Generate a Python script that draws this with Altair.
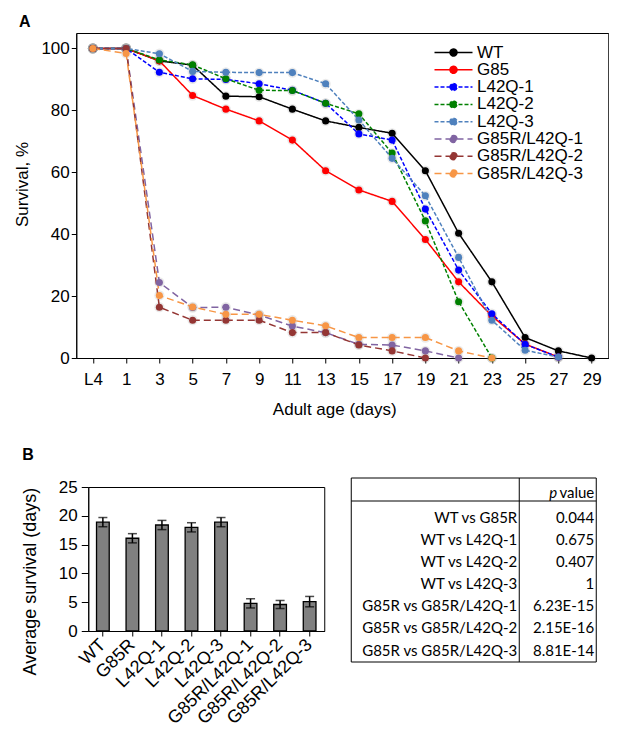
import altair as alt
import pandas as pd

FONT = "Liberation Sans"
TFONT = "Lato"

# ---------------- Panel A data ----------------
days = ["L4", "1", "3", "5", "7", "9", "11", "13", "15", "17", "19", "21", "23", "25", "27", "29"]
series_names = ["WT", "G85", "L42Q-1", "L42Q-2", "L42Q-3",
                "G85R/L42Q-1", "G85R/L42Q-2", "G85R/L42Q-3"]
line_colors = ["#000000", "#ff0000", "#0000ff", "#008000", "#4f81bd",
               "#8064a2", "#943634", "#f79646"]
dash_patterns = [[1, 0], [1, 0], [4, 2], [4, 2], [4, 2], [7, 4], [7, 4], [7, 4]]

wt = [100, 100, 96, 94.6, 84.6, 84.4, 80.4, 76.6, 74.5, 72.6, 60.5, 40.3, 24.6, 6.6, 2.3, 0]
g85 = [100, 100, 96, 84.8, 80.4, 76.6, 70.4, 60.5, 54.3, 50.6, 38.3, 24.6, 13.6, 4.5, 0.3, None]
l42q_1 = [100, 100, 92.3, 90.2, 90.0, 88.6, 86.5, 82.3, 72.4, 70.4, 48.1, 28.4, 14.3, 4.4, 0.3, None]
l42q_2 = [100, 100, 96.3, 94.7, 90.2, 86.5, 86.4, 82.3, 78.9, 66.2, 44.3, 18.2, 0, None, None, None]
l42q_3 = [100, 100, 98.3, 92.6, 92.3, 92.2, 92.2, 88.6, 76.9, 64.5, 52.4, 32.5, 12.2, 2.5, 0.3, None]
g85r_1 = [100, 100, 24.4, 16.3, 16.4, 13.9, 10.3, 8.2, 4.4, 4.2, 2.3, 0, None, None, None, None]
g85r_2 = [100, 100, 16.4, 12.2, 12.2, 12.2, 8.2, 8.2, 4.2, 2.3, 0, None, None, None, None, None]
g85r_3 = [100, 98.4, 20.2, 16.5, 14.1, 14.1, 12.2, 10.4, 6.6, 6.6, 6.6, 2.3, 0, None, None, None]
all_values = [wt, g85, l42q_1, l42q_2, l42q_3, g85r_1, g85r_2, g85r_3]

rows = []
for s, vals in zip(series_names, all_values):
    for i, (d, v) in enumerate(zip(days, vals)):
        if v is not None:
            rows.append({"day": d, "idx": i, "series": s, "value": v})
df = pd.DataFrame(rows)

# ---------------- Panel B data ----------------
strains = ["WT", "G85R", "L42Q-1", "L42Q-2", "L42Q-3",
           "G85R/L42Q-1", "G85R/L42Q-2", "G85R/L42Q-3"]
mean_survival = [18.9, 16.1, 18.4, 18.0, 18.9, 4.8, 4.6, 5.1]
sem_survival = [0.8, 0.8, 0.8, 0.8, 0.8, 0.8, 0.7, 0.9]

comparisons = ["WT vs G85R", "WT vs L42Q-1", "WT vs L42Q-2", "WT vs L42Q-3",
               "G85R vs G85R/L42Q-1", "G85R vs G85R/L42Q-2", "G85R vs G85R/L42Q-3"]
p_values = ["0.044", "0.675", "0.407", "1", "6.23E-15", "2.15E-16", "8.81E-14"]

# ================= Panel A =================
x_enc = alt.X("day:O", sort=days,
              scale=alt.Scale(type="point", padding=0.5),
              axis=alt.Axis(title="Adult age (days)", labelAngle=0, labelFontSize=17,
                            titleFontSize=17, tickSize=5, labelPadding=8,
                            titlePadding=14, titleX=258))
y_enc = alt.Y("value:Q", scale=alt.Scale(domain=[0, 105], nice=False),
              axis=alt.Axis(title="Survival, %", values=[0, 20, 40, 60, 80, 100],
                            labelFontSize=17, titleFontSize=17, tickSize=5,
                            labelPadding=2, titlePadding=9, titleY=151))

color_scale = alt.Scale(domain=series_names, range=line_colors)
dash_scale = alt.Scale(domain=series_names, range=dash_patterns)

leg = alt.Legend(orient="none", legendX=369, legendY=11, title=None,
                 symbolType="M-3.8,0L3.8,0M-0.7,0A0.7,0.7,0,1,0,0.7,0A0.7,0.7,0,1,0,-0.7,0Z",
                 symbolSize=100, symbolStrokeWidth=1.5, symbolOpacity=1,
                 labelFontSize=17, labelFont=FONT, labelColor="black",
                 labelOffset=15, rowPadding=-0.7, padding=0)

halo = alt.Chart(df).mark_circle(size=105, color="#8a8a8a", opacity=0.18).encode(
    x=x_enc, y=y_enc)

lines = alt.Chart(df).mark_line(strokeWidth=1.5).encode(
    x=x_enc, y=y_enc,
    color=alt.Color("series:N", scale=color_scale, legend=leg),
    strokeDash=alt.StrokeDash("series:N", scale=dash_scale, legend=leg),
    order=alt.Order("idx:Q"),
)

points = alt.Chart(df).mark_point(filled=True, size=50, opacity=1, strokeWidth=0).encode(
    x=x_enc, y=y_enc,
    color=alt.Color("series:N", scale=color_scale, legend=leg),
    stroke=alt.Stroke("series:N", scale=color_scale, legend=leg),
    strokeDash=alt.StrokeDash("series:N", scale=dash_scale, legend=leg),
)

panel_a = alt.layer(halo, lines, points).properties(
    width=532, height=325,
    title=alt.TitleParams("A", anchor="start", frame="bounds", dx=5, offset=3,
                          fontSize=16, fontWeight="bold", font=FONT, color="black"),
)

# ================= Panel B (bars) =================
bar_df = pd.DataFrame({"strain": strains, "mean": mean_survival, "sem": sem_survival})
bar_df["lo"] = bar_df["mean"] - bar_df["sem"]
bar_df["hi"] = bar_df["mean"] + bar_df["sem"]

bx = alt.X("strain:N", sort=strains,
           scale=alt.Scale(paddingInner=0.57, paddingOuter=0.28),
           axis=alt.Axis(title=None, labelAngle=-45, labelAlign="right",
                         labelBaseline="middle", labelFontSize=18, tickSize=5,
                         labelPadding=6))
by_scale = alt.Scale(domain=[0, 25], nice=False)
by_axis = alt.Axis(title="Average survival (days)", values=[0, 5, 10, 15, 20, 25],
                   labelOverlap=False, labelFontSize=17, titleFontSize=18, tickSize=7,
                   labelPadding=4, titlePadding=19, titleY=94)

bars = alt.Chart(bar_df).mark_bar(color="#808080", stroke="black", strokeWidth=1.3).encode(
    x=bx, y=alt.Y("mean:Q", scale=by_scale, axis=by_axis))
err_rule = alt.Chart(bar_df).mark_rule(color="black", strokeWidth=1.5).encode(
    x=bx, y=alt.Y("lo:Q", scale=by_scale, axis=by_axis), y2="hi:Q")
cap_hi = alt.Chart(bar_df).mark_tick(color="black", size=9, thickness=1.5).encode(
    x=bx, y=alt.Y("hi:Q", scale=by_scale, axis=by_axis))
cap_lo = alt.Chart(bar_df).mark_tick(color="black", size=9, thickness=1.5).encode(
    x=bx, y=alt.Y("lo:Q", scale=by_scale, axis=by_axis))

panel_b = alt.layer(bars, err_rule, cap_hi, cap_lo).properties(
    width=236, height=144,
    title=alt.TitleParams("B", anchor="start", frame="bounds", dx=1, offset=15,
                          fontSize=16, fontWeight="bold", font=FONT, color="black"),
)

# ================= Panel B (table) =================
tbl_df = pd.DataFrame({"row": list(range(1, 8)), "comp": comparisons, "p": p_values})
head_df = pd.DataFrame({"row": [0], "pchar": ["p"], "word": ["value"]})
one_df = pd.DataFrame({"k": [0]})

ty = alt.Y("row:O", axis=None,
           scale=alt.Scale(type="point", domain=list(range(8)), padding=0.42))

frame = alt.Chart(one_df).mark_rect(fillOpacity=0, stroke="black", strokeWidth=1).encode(
    x=alt.value(0), x2=alt.value(245), y=alt.value(-9), y2=alt.value(175))
hline = alt.Chart(one_df).mark_rule(color="black", strokeWidth=1).encode(
    x=alt.value(0), x2=alt.value(245), y=alt.value(14))
vline = alt.Chart(one_df).mark_rule(color="black", strokeWidth=1).encode(
    x=alt.value(168), y=alt.value(-9), y2=alt.value(175))
left_txt = alt.Chart(tbl_df).mark_text(align="right", baseline="middle", font=TFONT,
                                       fontSize=15, color="black", dy=-1).encode(
    y=ty, x=alt.value(166), text="comp:N")
right_txt = alt.Chart(tbl_df).mark_text(align="right", baseline="middle", font=TFONT,
                                        fontSize=15, color="black", dy=-1).encode(
    y=ty, x=alt.value(243), text="p:N")
head_word = alt.Chart(head_df).mark_text(align="right", baseline="middle", font=TFONT,
                                         fontSize=15, color="black", dy=-3).encode(
    y=ty, x=alt.value(243), text="word:N")
head_p = alt.Chart(head_df).mark_text(align="right", baseline="middle", font=TFONT,
                                      fontSize=15, fontStyle="italic", color="black",
                                      dy=-3).encode(
    y=ty, x=alt.value(206), text="pchar:N")

table = alt.layer(frame, hline, vline, left_txt, right_txt, head_word, head_p).properties(
    width=245, height=174, view=alt.ViewBackground(stroke=None))

bottom = alt.hconcat(panel_b, table, spacing=25)
top = alt.hconcat(panel_a)

chart = alt.vconcat(top, bottom, spacing=28, center=True).properties(
    padding={"left": 5, "top": 5, "right": 0, "bottom": 5}
).configure_view(stroke="black", strokeWidth=1).configure_axis(
    grid=False, domainColor="black", tickColor="black", labelColor="black",
    titleColor="black", labelFont=FONT, titleFont=FONT, titleFontWeight="normal",
    domainWidth=1, tickWidth=1
)

chart.save("out.html", embed_options={"renderer": "svg", "actions": False})
